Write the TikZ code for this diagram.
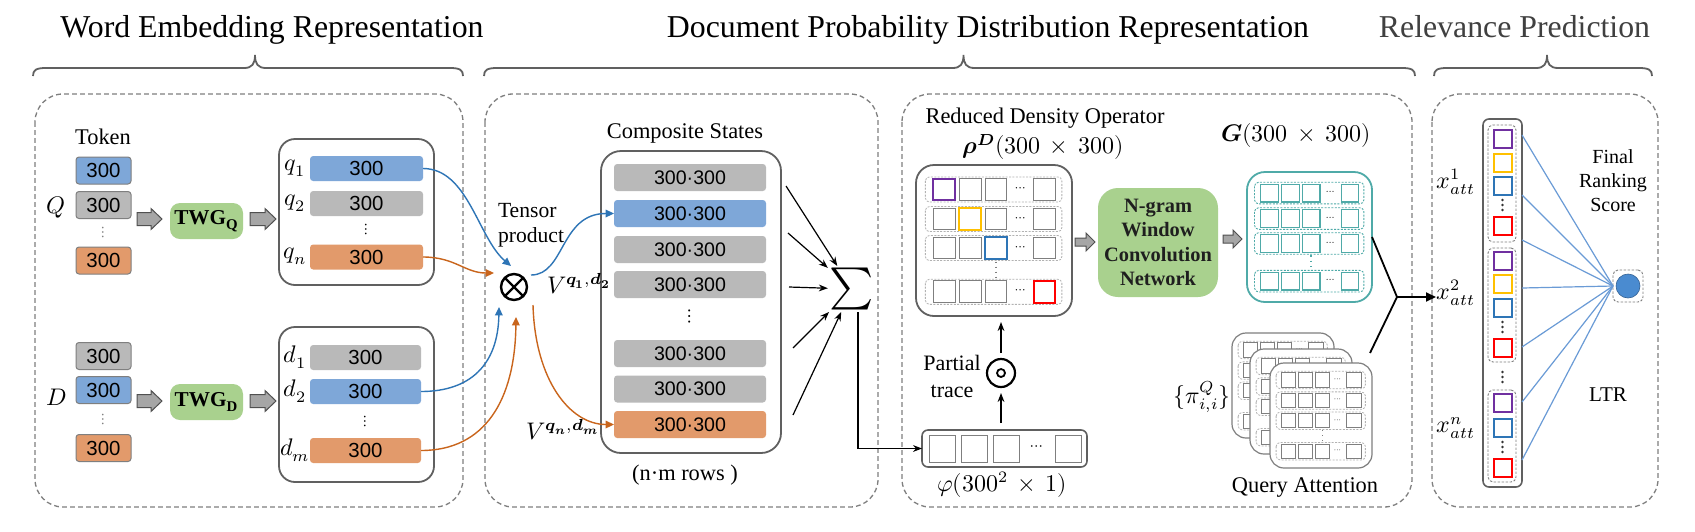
\documentclass[tikz,border=0pt]{standalone}
\usepackage{fontspec}
\setmainfont{Liberation Serif}
\newfontfamily\arialf{Liberation Sans}
\usepackage{unicode-math}
\setmathfont{Latin Modern Math}
\usetikzlibrary{calc,arrows.meta}

\definecolor{cblue}{HTML}{7EA7D8}
\definecolor{cgray}{HTML}{B9B9B9}
\definecolor{corange}{HTML}{E29A6B}
\definecolor{cgreen}{HTML}{A9D18E}
\definecolor{cteal}{HTML}{4FAAA8}
\definecolor{cpurple}{HTML}{7030A0}
\definecolor{cyellow}{HTML}{FFC000}
\definecolor{cblueb}{HTML}{2E75B6}
\definecolor{cred}{HTML}{FF0000}
\definecolor{kblue}{HTML}{2E75B6}
\definecolor{korange}{HTML}{C9651C}
\definecolor{dgray}{HTML}{7F7F7F}
\definecolor{fgray}{HTML}{606060}
\definecolor{lblue}{HTML}{6A9BD6}
\definecolor{oblue}{HTML}{4A8BD0}
\definecolor{agray}{HTML}{A6A6A6}
\definecolor{adark}{HTML}{505050}
\definecolor{ttlgray}{HTML}{404040}

\tikzset{
  every node/.style={inner sep=0pt, outer sep=0pt},
  sz/.style 2 args={minimum width={#1*0.5pt}, minimum height={#2*0.5pt}},
  lbl/.style={font=\rmfamily\fontsize{11.2}{13.4}\selectfont},
  mlbl/.style={font=\fontsize{12}{14}\selectfont},
  ttl/.style={font=\rmfamily\fontsize{15.9}{19}\selectfont, anchor=base},
  panel/.style={draw=dgray, line width=0.65pt, dash pattern=on 2.4pt off 1.6pt, rounded corners=14pt},
  tok/.style={draw=dgray, line width=0.5pt, rounded corners=1.5pt, sz={55}{27}, font=\arialf\fontsize{10.2}{12}\selectfont},
  bar/.style={rounded corners=1.6pt, font=\arialf\fontsize{10.2}{12}\selectfont},
  csbar/.style={rounded corners=1.6pt, sz={152}{27}, font=\arialf\fontsize{9.8}{12}\selectfont},
  ctn/.style={draw=fgray, line width=0.9pt, rounded corners=8pt},
  greenbox/.style={fill=cgreen, rounded corners=5pt},
  vdts/.style={font=\fontsize{8}{8}\selectfont},
  karr/.style={-{Triangle[length=4.2pt,width=3.8pt]}, line width=0.7pt},
  sarr/.style={-{Stealth[length=4.5pt,width=3.4pt]}, line width=0.6pt},
  rowg/.style={draw=gray!60, line width=0.4pt, dash pattern=on 1pt off 0.7pt, rounded corners=2pt},
  rowt/.style={draw=cteal, line width=0.45pt, dash pattern=on 1pt off 0.7pt, rounded corners=2pt},
  cellg/.style={draw=dgray, line width=0.5pt, fill=white},
  cellt/.style={draw=cteal, line width=0.7pt, fill=white},
  frrho/.style={draw=fgray, line width=0.9pt, rounded corners=9pt, fill=white},
  frg/.style={draw=cteal, line width=0.9pt, rounded corners=9pt, fill=white},
  frcard/.style={draw=dgray, line width=0.6pt, rounded corners=7pt, fill=white},
  vcell/.style={line width=1pt, fill=white, sz={18}{18}},
  grp/.style={draw=dgray, line width=0.45pt, dash pattern=on 1.2pt off 0.8pt, rounded corners=2.5pt},
}

% name, x0, y0, w, h, frame style, row style, cell style
\newcommand\gridbox[8]{%
  \node[#6, anchor=north west, minimum width={#4*0.5pt}, minimum height={#5*0.5pt}] (#1) at (#2,#3) {};
  \pgfmathsetmacro\gdfs{0.042*#4}%
  \foreach \fy in {0.162,0.358,0.55,0.84}{%
    \draw[#7] ({#2+0.06*#4},{#3+(\fy-0.083)*#5}) rectangle ({#2+0.935*#4},{#3+(\fy+0.083)*#5});
    \foreach \fx in {0.18,0.348,0.513,0.824}{%
      \draw[#8] ({#2+(\fx-0.07)*#4},{#3+\fy*#5-0.07*#4}) rectangle ({#2+(\fx+0.07)*#4},{#3+\fy*#5+0.07*#4});
    }
    \path ({#2+0.668*#4},{#3+\fy*#5}) node[font=\fontsize{\gdfs}{\gdfs}\selectfont] {$\cdots$};
  }
  \draw[#8, dotted, line width=0.7pt] ({#2+0.513*#4},{#3+0.64*#5}) -- ({#2+0.513*#4},{#3+0.75*#5});
}
% colored cell: x0 y0 w h fx fy style
\newcommand\gcell[7]{%
  \draw[#7] ({#1+(#5-0.07)*#3},{#2+#6*#4-0.07*#3}) rectangle ({#1+(#5+0.07)*#3},{#2+#6*#4+0.07*#3});
}
% fat arrow: x0 x1 y bodyhalf headhalf headlen
\newcommand\fatarrow[6]{%
  \draw[fill=agray, draw=adark, line width=0.5pt, line join=miter]
    (#1,#3-#4) -- (#2-#6,#3-#4) -- (#2-#6,#3-#5) -- (#2,#3) -- (#2-#6,#3+#5) -- (#2-#6,#3+#4) -- (#1,#3+#4) -- cycle;
}
% brace: x0 tip x1
\newcommand\cbrace[3]{%
  \draw[fgray, line width=0.9pt] (#1,76) .. controls (#1,70) and (#1+3,68) .. (#1+13,68)
    -- (#2-11,68) .. controls (#2-3,68) and (#2,64) .. (#2,55)
    .. controls (#2,64) and (#2+3,68) .. (#2+11,68)
    -- (#3-13,68) .. controls (#3-3,68) and (#3,70) .. (#3,76);
}
% three small vertical dots centred at (x,y)
\newcommand\vdotsat[2]{%
  \foreach \dd in {-5,0,5} \fill[black!80] (#1,#2+\dd) circle (0.65pt);
}

\begin{document}
\begin{tikzpicture}[x=0.5pt, y=-0.5pt]
\useasboundingbox (0,0) rectangle (1695,531);
\fill[white] (0,0) rectangle (1695,531);

% ---------- titles and braces ----------
\node[ttl] (t1) at (272,37) {Word Embedding Representation};
\node[ttl] (t2) at (988,37) {Document Probability Distribution Representation};
\node[ttl, text=ttlgray] (t3) at (1514.5,37) {Relevance Prediction};
\cbrace{33}{255}{463}
\cbrace{484}{963.5}{1415}
\cbrace{1434}{1547}{1652}

% ---------- panels ----------
\draw[panel] (35,94) rectangle (463,507);
\draw[panel] (485,94) rectangle (878,507);
\draw[panel] (902,94) rectangle (1412,507);
\draw[panel] (1432,94) rectangle (1658,507);

% ---------- panel 1 ----------
\node[lbl] (token) at (103,137) {Token};
\node[tok, fill=cblue] (tq1) at (103.5,170.5) {300};
\node[tok, fill=cgray] (tq2) at (103.5,205) {300};
\node[vdts, text=dgray] (tqd) at (103.5,232) {$\vdots$};
\node[tok, fill=corange] (tq3) at (103.5,260.5) {300};
\node[mlbl] (Q) at (56,207) {$Q$};

\node[tok, fill=cgray] (td1) at (103.5,356) {300};
\node[tok, fill=cblue] (td2) at (103.5,390) {300};
\node[vdts, text=dgray] (tdd) at (103.5,419) {$\vdots$};
\node[tok, fill=corange] (td3) at (103.5,448) {300};
\node[mlbl] (D) at (56,397) {$D$};

\fatarrow{137}{162}{219}{6.5}{10.5}{11}
\fatarrow{250}{276}{219}{6.5}{10.5}{11}
\fatarrow{137}{162}{401}{6.5}{10.5}{11}
\fatarrow{250}{276}{401}{6.5}{10.5}{11}

\node[greenbox, sz={73}{36}] (twgq) at (206.5,221) {\rmfamily\bfseries\fontsize{10.6}{12}\selectfont TWG$_{\mathbf{Q}}$};
\node[greenbox, sz={73}{36}] (twgd) at (206.5,402) {\rmfamily\bfseries\fontsize{10.6}{12}\selectfont TWG$_{\mathbf{D}}$};

\node[ctn, sz={155}{146}] (qbox) at (356.5,212) {};
\node[bar, fill=cblue, sz={113}{25}] (qb1) at (366.5,168.5) {300};
\node[bar, fill=cgray, sz={113}{25}] (qb2) at (366.5,203.5) {300};
\node[vdts] (qbd) at (366.5,229) {$\vdots$};
\node[bar, fill=corange, sz={113}{25}] (qbn) at (366.5,257) {300};
\node[mlbl] (lq1) at (295,168) {$q_1$};
\node[mlbl] (lq2) at (295,203) {$q_2$};
\node[mlbl] (lqn) at (295,256) {$q_n$};

\node[ctn, sz={155}{155}] (dbox) at (356.5,404.5) {};
\node[bar, fill=cgray, sz={111}{25}] (db1) at (365.5,357.5) {300};
\node[bar, fill=cblue, sz={111}{25}] (db2) at (365.5,391.5) {300};
\node[vdts] (dbd) at (365.5,421) {$\vdots$};
\node[bar, fill=corange, sz={111}{25}] (dbm) at (365.5,450.5) {300};
\node[mlbl] (ld1) at (295,357) {$d_1$};
\node[mlbl] (ld2) at (295,391) {$d_2$};
\node[mlbl] (ldm) at (295,450) {$d_m$};

% ---------- panel 2 ----------
\node[circle, draw, line width=1.2pt, minimum size=13pt] (tp) at (514,287) {};
\draw[line width=1.2pt] (tp.45) -- (tp.225) (tp.135) -- (tp.315);
\node[lbl, align=left, font=\rmfamily\fontsize{10.8}{12.6}\selectfont] (tpl) at (531,225) {Tensor\\product};

\draw[karr, kblue] (qb1.east) .. controls (468,168.5) and (478,238) .. ($(tp)+(-3,-21)$);
\draw[karr, korange] (qbn.east) .. controls (455,257) and (465,273) .. ($(tp)+(-20,-14)$);
\draw[karr, kblue] (db2.east) .. controls (470,391.5) and (498,365) .. ($(tp)+(-15,20)$);
\draw[karr, korange] (dbm.east) .. controls (485,450.5) and (515,400) .. ($(tp)+(2,30)$);

\node[ctn, sz={180}{302}, rounded corners=10pt] (cs) at (691,302) {};
\node[lbl] (csl) at (685,133) {Composite States};
\node[csbar, fill=cgray] (cs1) at (690,177.5) {300·300};
\node[csbar, fill=cblue] (cs2) at (690,213.5) {300·300};
\node[csbar, fill=cgray] (cs3) at (690,249.5) {300·300};
\node[csbar, fill=cgray] (cs4) at (690,284.5) {300·300};
\node[font=\fontsize{10}{10}\selectfont] (csd) at (690,316) {$\vdots$};
\node[csbar, fill=cgray] (cs5) at (690,353.5) {300·300};
\node[csbar, fill=cgray] (cs6) at (690,389) {300·300};
\node[csbar, fill=corange] (cs7) at (690,424.5) {300·300};
\node[lbl] (rows) at (685,475) {(n·m rows )};

\draw[karr, kblue] ($(tp)+(17,-12)$) .. controls (565,275) and (560,213.5) .. (cs2.west);
\draw[karr, korange] ($(tp)+(19,18)$) .. controls (535,380) and (570,424.5) .. (cs7.west);

\node[mlbl] (v1) at (579,284) {$V^{\symbfit{q}_{\symbf{1}},\symbfit{d}_{\symbf{2}}}$};
\node[mlbl] (v2) at (563,430) {$V^{\symbfit{q}_{\symbfit{n}},\symbfit{d}_{\symbfit{m}}}$};

\node[font=\fontsize{21}{21}\selectfont, inner sep=1pt] (sig) at (852,289) {$\sum$};
\coordinate (s1) at (786,186);
\coordinate (s2) at (788,233);
\coordinate (s3) at (789,287);
\coordinate (s4) at (793,348);
\coordinate (s5) at (793,415);
\foreach \s in {s1,s2,s3,s4,s5} \draw[sarr] (\s) -- (sig);

% ---------- panel 3 ----------
\node[lbl] (rdo) at (1045,118) {Reduced Density Operator};
\node[mlbl] (rhol) at (1043,147) {$\symbfit{\rho}^{\symbfit{D}}(300\,\times\,300)$};
\gridbox{rho}{916}{165}{156}{151}{frrho}{rowg}{cellg}
\gcell{916}{165}{156}{151}{0.18}{0.162}{draw=cpurple, line width=1pt}
\gcell{916}{165}{156}{151}{0.348}{0.358}{draw=cyellow, line width=1pt}
\gcell{916}{165}{156}{151}{0.513}{0.55}{draw=cblueb, line width=1pt}
\gcell{916}{165}{156}{151}{0.824}{0.84}{draw=cred, line width=1pt}

\node[draw=fgray, line width=0.8pt, rounded corners=3pt, sz={165}{37}] (phi) at (1004.5,448.5) {};
\foreach \cx in {942,974.5,1006,1068.5} \node[cellg, sz={26}{27}] at (\cx,448.5) {};
\node[font=\fontsize{8}{8}\selectfont] at (1037,448) {$\cdots$};
\node[mlbl] (phil) at (1002,485) {$\varphi(300^{2}\,\times\,1)$};

\draw[sarr] ([xshift=3pt]sig.south) |- (phi.west);

\node[circle, draw, line width=1.1pt, minimum size=14pt] (ptr) at (1001,373) {};
\node[circle, draw, line width=0.9pt, minimum size=4pt] (ptri) at (ptr) {};
\node[lbl, align=center, font=\rmfamily\fontsize{11}{13.5}\selectfont] (ptl) at (952,376) {Partial\\trace};
\draw[sarr] ($(phi.north -| ptr)+(0,-7)$) -- ($(ptr.south)+(0,6)$);
\draw[sarr] ($(ptr.north)+(0,-6)$) -- ($(rho.south -| ptr)+(0,6)$);

\fatarrow{1075}{1095}{242}{4}{9}{9}
\node[greenbox, sz={120}{109}, rounded corners=10pt, align=center, text=black!88,
  font=\rmfamily\bfseries\fontsize{10.2}{12.2}\selectfont] (ngram) at (1158,242.5) {N-gram\\Window\\Convolution\\Network};
\fatarrow{1223}{1242}{239}{4}{9}{9}

\node[mlbl] (gl) at (1296,135) {$\symbfit{G}(300\,\times\,300)$};
\gridbox{G}{1247}{172}{125}{130}{frg}{rowt}{cellt}

\gridbox{qa1}{1232}{333}{102}{105}{frcard}{rowg}{cellg}
\gridbox{qa2}{1250}{349}{102}{105}{frcard}{rowg}{cellg}
\gridbox{qa3}{1270}{363}{102}{105}{frcard}{rowg}{cellg}
\node[mlbl] (pil) at (1202,397) {$\{\pi^{Q}_{i,i}\}$};
\node[lbl] (qal) at (1305,487) {Query Attention};

\coordinate (mrg) at (1397,297);
\coordinate (qatop) at (1370,353);
\coordinate (mrgend) at (1436,297);
\draw[line width=0.9pt] (G.east) -- (mrg) -- (qatop);
\draw[-{Triangle[length=5pt,width=4.5pt]}, line width=0.9pt] (mrg) -- (mrgend);

% ---------- panel 4 ----------
\node[draw=fgray, line width=0.8pt, rounded corners=3pt, sz={39}{368}] (vec) at (1502.5,303) {};
\node[grp, sz={28}{117}] (g1) at (1502,183.5) {};
\node[grp, sz={28}{114}] (g2) at (1502,305) {};
\node[grp, sz={28}{92}] (g3) at (1502,436) {};
\node[vcell, draw=cpurple] (c11) at (1502.5,138.5) {};
\node[vcell, draw=cyellow] (c12) at (1502.5,163) {};
\node[vcell, draw=cblueb] (c13) at (1502.5,186) {};
\vdotsat{1502.5}{205}
\node[vcell, draw=cred] (c14) at (1502.5,226) {};
\node[vcell, draw=cpurple] (c21) at (1502.5,261) {};
\node[vcell, draw=cyellow] (c22) at (1502.5,284) {};
\node[vcell, draw=cblueb] (c23) at (1502.5,308) {};
\vdotsat{1502.5}{327}
\node[vcell, draw=cred] (c24) at (1502.5,347.5) {};
\vdotsat{1502.5}{377}
\node[vcell, draw=cpurple] (c31) at (1502.5,402.5) {};
\node[vcell, draw=cblueb] (c32) at (1502.5,427.5) {};
\vdotsat{1502.5}{447}
\node[vcell, draw=cred] (c33) at (1502.5,467.5) {};

\node[mlbl] (x1) at (1456,182) {$x^{1}_{att}$};
\node[mlbl] (x2) at (1456,293) {$x^{2}_{att}$};
\node[mlbl] (xn) at (1456,428) {$x^{n}_{att}$};

\node[draw=dgray, line width=0.45pt, dash pattern=on 1.2pt off 0.8pt, rounded corners=2.5pt, sz={30}{32}] (outn) at (1628,286) {};
\node[circle, fill=oblue, draw=oblue!70!black, line width=0.3pt, minimum size=12pt] (outc) at (1628,286) {};
\foreach \yy in {135,195,240,288,347,402,460}
  \draw[lblue, line width=0.6pt] ($(vec.north east)+(0,\yy-119)$) -- (outn.west);

\node[align=center, font=\rmfamily\fontsize{10}{12}\selectfont] (frs) at (1613,181) {Final\\Ranking\\Score};
\node[font=\rmfamily\fontsize{10.5}{12}\selectfont] (ltr) at (1608,395) {LTR};
\end{tikzpicture}
\end{document}
